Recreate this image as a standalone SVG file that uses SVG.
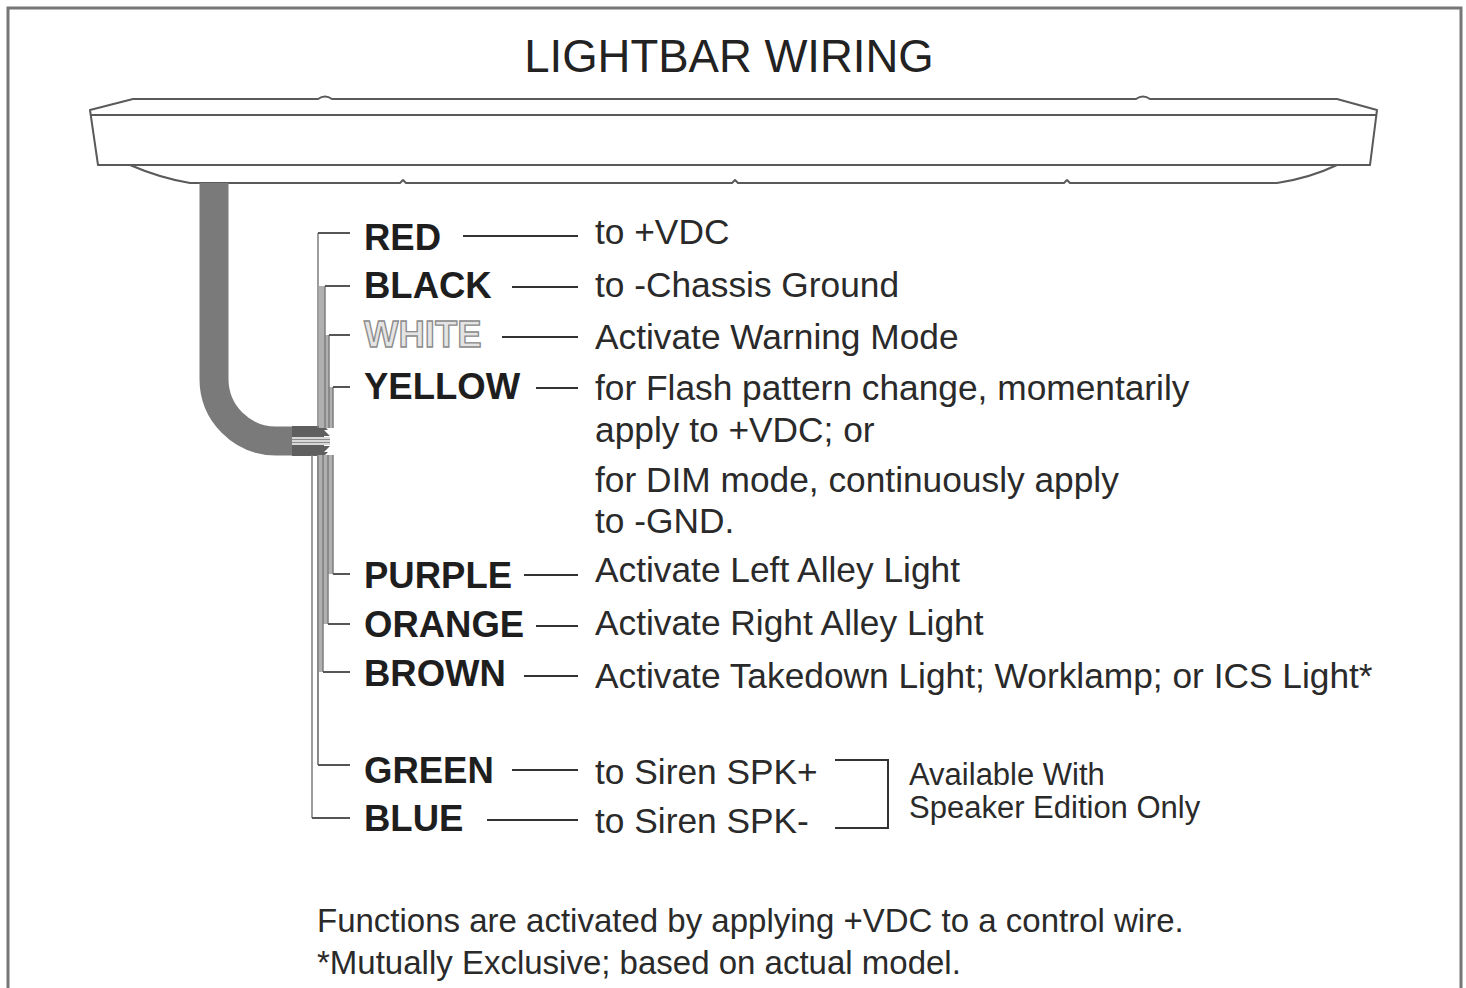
<svg xmlns="http://www.w3.org/2000/svg" width="1466" height="988" viewBox="0 0 1466 988">
<style>
.bar{fill:none;stroke:#5a5a5a;stroke-width:2;stroke-linejoin:round}
.wire{fill:none;stroke:#555;stroke-width:2}
.vert{fill:none;stroke:#7d7d7d;stroke-width:1.5}
.dash{fill:none;stroke:#333;stroke-width:2}
.lbl{font-family:"Liberation Sans",Arial,sans-serif;font-weight:bold;font-size:36.5px;fill:#1e1e1e}
.lblw{font-family:"Liberation Sans",Arial,sans-serif;font-weight:bold;font-size:36.5px;fill:#e4e4e4;stroke:#8a8a8a;stroke-width:1.3}
.desc{font-family:"Liberation Sans",Arial,sans-serif;font-size:35.3px;fill:#2a2a2a}
.note{font-family:"Liberation Sans",Arial,sans-serif;font-size:31px;fill:#2a2a2a}
.foot{font-family:"Liberation Sans",Arial,sans-serif;font-size:33px;fill:#2a2a2a}
</style>
<rect width="1466" height="988" fill="#fff"/>
<rect x="8" y="8" width="1453" height="1000" fill="none" stroke="#777" stroke-width="3"/>
<text x="729" y="72" text-anchor="middle" style="font-family:'Liberation Sans',Arial,sans-serif;font-size:45.5px;fill:#222">LIGHTBAR WIRING</text>

<g id="lightbar">
<path class="bar" d="M90,110 L133,99 H318 Q325,94 332,99 H1136 Q1143,94 1150,99 H1337 L1377,110 L1370,165 H1337 Q1310,178 1277,183 H1070 L1067,180 L1064,183 H738 L735,180 L732,183 H406 L403,180 L400,183 H190 Q160,178 130,165 H98 L90,110 Z"/>
<line class="bar" x1="90" y1="115" x2="1377" y2="115"/>
<line class="bar" x1="98" y1="165" x2="1370" y2="165"/>
</g>

<g id="cable">
<path d="M214,183 V379 A62,62 0 0 0 276,441 H294" fill="none" stroke="#7a7a7a" stroke-width="29"/>
<rect x="292" y="426" width="32" height="11" fill="#5f5f5f"/>
<rect x="292" y="445" width="32" height="11" fill="#5f5f5f"/>
<rect x="292" y="437" width="38" height="8" fill="#d8d8d8"/>
<line x1="292" y1="439.5" x2="330" y2="439.5" stroke="#8a8a8a" stroke-width="1.2"/>
<line x1="292" y1="442.5" x2="330" y2="442.5" stroke="#8a8a8a" stroke-width="1.2"/>
<path d="M324,426 L328,430 L324,430 L330,436 L324,436 Z" fill="#5f5f5f"/>
<path d="M324,456 L328,452 L324,452 L330,446 L324,446 Z" fill="#5f5f5f"/>
</g>

<g id="connectors">
<polygon points="319,286 325,286 325,335 329,335 329,387 333,387 333,428 319,428" fill="#b0b0b0"/>
<polygon points="317,455 333,455 333,574 328,574 328,624 323,624 323,672 319,672 319,765 317,765" fill="#b0b0b0"/>
<path class="vert" d="M318,233 V428 M325,286 V428 M329,335 V428 M333,387 V428"/>
<path class="vert" d="M333,455 V574 M328,455 V624 M323,455 V672 M318,455 V765 M312,455 V818"/>
<path class="wire" d="M350,233 H318 M350,286 H325 M350,335 H329 M350,387 H333"/>
<path class="wire" d="M350,574 H333 M350,624 H328 M350,672 H323 M350,765 H318 M350,818 H312"/>
<line class="dash" x1="463" y1="236" x2="578" y2="236"/>
<line class="dash" x1="512" y1="287" x2="578" y2="287"/>
<line class="dash" x1="502" y1="337" x2="578" y2="337"/>
<line class="dash" x1="536" y1="388" x2="578" y2="388"/>
<line class="dash" x1="524" y1="575" x2="578" y2="575"/>
<line class="dash" x1="536" y1="626" x2="578" y2="626"/>
<line class="dash" x1="524" y1="676" x2="578" y2="676"/>
<line class="dash" x1="512" y1="770" x2="578" y2="770"/>
<line class="dash" x1="487" y1="820" x2="578" y2="820"/>
<path class="dash" d="M835,760 H888 V828 H835"/>
</g>

<g id="wire-red"><text class="lbl" x="364" y="250">RED</text><text class="desc" x="595" y="244">to +VDC</text></g>
<g id="wire-black"><text class="lbl" x="364" y="298">BLACK</text><text class="desc" x="595" y="297">to -Chassis Ground</text></g>
<g id="wire-white"><text class="lblw" x="364" y="347">WHITE</text><text class="desc" x="595" y="349">Activate Warning Mode</text></g>
<g id="wire-yellow"><text class="lbl" x="364" y="399">YELLOW</text>
<text class="desc" x="595" y="400">for Flash pattern change, momentarily</text>
<text class="desc" x="595" y="442">apply to +VDC; or</text>
<text class="desc" x="595" y="492">for DIM mode, continuously apply</text>
<text class="desc" x="595" y="533">to -GND.</text></g>
<g id="wire-purple"><text class="lbl" x="364" y="588">PURPLE</text><text class="desc" x="595" y="582">Activate Left Alley Light</text></g>
<g id="wire-orange"><text class="lbl" x="364" y="637">ORANGE</text><text class="desc" x="595" y="635">Activate Right Alley Light</text></g>
<g id="wire-brown"><text class="lbl" x="364" y="686">BROWN</text><text class="desc" x="595" y="688">Activate Takedown Light; Worklamp; or ICS Light*</text></g>
<g id="wire-green"><text class="lbl" x="364" y="783">GREEN</text><text class="desc" x="595" y="784">to Siren SPK+</text></g>
<g id="wire-blue"><text class="lbl" x="364" y="831">BLUE</text><text class="desc" x="595" y="833">to Siren SPK-</text></g>
<g id="speaker-note"><text class="note" x="909" y="785">Available With</text><text class="note" x="909" y="818">Speaker Edition Only</text></g>
<g id="footer"><text class="foot" x="317" y="932">Functions are activated by applying +VDC to a control wire.</text>
<text class="foot" x="317" y="974">*Mutually Exclusive; based on actual model.</text></g>
</svg>
